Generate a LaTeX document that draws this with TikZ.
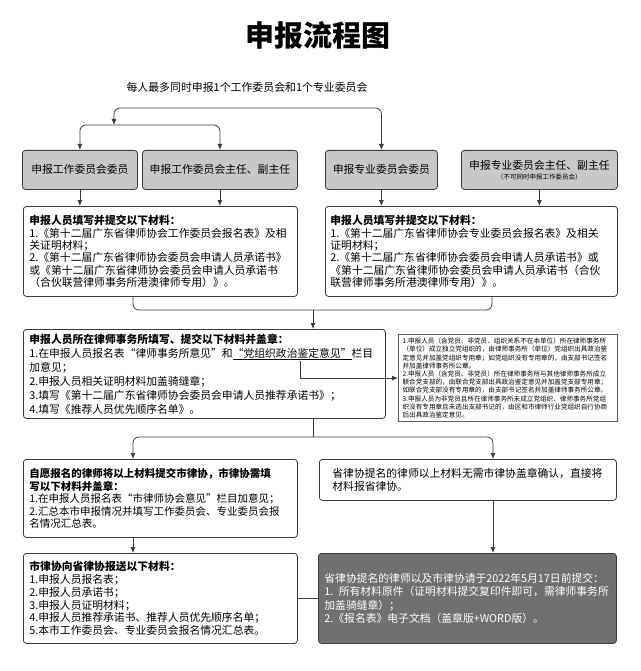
\documentclass[tikz,border=0pt]{standalone}
\usepackage{fontspec}
\setmainfont{Noto Sans CJK SC}
\usetikzlibrary{arrows.meta,calc}
\definecolor{boxline}{RGB}{60,60,60}
\definecolor{headgray}{RGB}{200,200,200}
\definecolor{submitgray}{RGB}{112,112,112}
\definecolor{notegray}{RGB}{95,95,95}
\tikzset{
  flow/.style={-{Latex[length=6pt,width=5pt]}, line width=0.8pt, draw=boxline},
  bothflow/.style={{Latex[length=6pt,width=5pt]}-{Latex[length=6pt,width=5pt]}, line width=0.8pt, draw=boxline, rounded corners=6pt},
  link/.style={line width=0.8pt, draw=boxline, rounded corners=6pt},
  headbox/.style={
    draw=boxline, line width=0.8pt, rounded corners=3pt,
    fill=headgray, align=center, anchor=north west,
    minimum height=39pt, inner sep=2pt,
    font=\fontsize{10.8}{12}\selectfont
  },
  stepbox/.style={
    draw=boxline, line width=0.8pt, rounded corners=3pt,
    fill=white, align=left, anchor=north west,
    inner xsep=6pt, inner ysep=2pt,
    font=\fontsize{10.8}{12.3}\selectfont
  },
  notebox/.style={
    draw=notegray, line width=1.2pt,
    fill=white, align=left, anchor=north west,
    inner xsep=4pt, inner ysep=2pt,
    font=\fontsize{6.6}{8.2}\selectfont
  }
}

\begin{document}
\begin{tikzpicture}[x=1pt,y=-1pt]
\useasboundingbox (0,0) rectangle (640,671);

%--------------------------------------------------
% Title
%--------------------------------------------------
\node[font=\bfseries\fontsize{29}{29}\selectfont] (title) at (318,36) {申报流程图};

\node[font=\fontsize{10.9}{12}\selectfont] (rule) at (247,87)
{每人最多同时申报1个工作委员会和1个专业委员会};

%--------------------------------------------------
% Row 1: what to apply for
%--------------------------------------------------
\node[headbox, minimum width=115pt] (gw) at (22,150) {申报工作委员会委员};
\node[headbox, minimum width=155pt] (gz) at (142,150) {申报工作委员会主任、副主任};
\node[headbox, minimum width=112pt] (zm) at (325,150) {申报专业委员会委员};
\node[headbox, minimum width=156pt] (zz) at (461,150)
{申报专业委员会主任、副主任\\[-2pt]{\fontsize{6.5}{7}\selectfont（不可同时申报工作委员会）}};

% brackets above the boxes
\coordinate (split1) at (114,125);
\coordinate (bar1) at (247,108);
\draw[bothflow] (split1) |- (bar1) -| (zm.north);
\draw[bothflow] (gw.north) |- (split1) -| (gz.north);

%--------------------------------------------------
% Row 2: materials of the applicant
%--------------------------------------------------
\node[stepbox, text width=262pt, minimum height=90pt] (lm) at (23,206) {%
\textbf{申报人员填写并提交以下材料：}\\
1.《第十二届广东省律师协会工作委员会报名表》及相\\
关证明材料；\\
2.《第十二届广东省律师协会委员会申请人员承诺书》\\
或《第十二届广东省律师协会委员会申请人员承诺书\\
（合伙联营律师事务所港澳律师专用）》。};

\node[stepbox, inner xsep=5pt, text width=282pt, minimum height=90pt] (rm) at (325,206) {%
\textbf{申报人员填写并提交以下材料：}\\
1.《第十二届广东省律师协会专业委员会报名表》及相关\\
证明材料；\\
2.《第十二届广东省律师协会委员会申请人员承诺书》或\\
《第十二届广东省律师协会委员会申请人员承诺书（合伙\\
联营律师事务所港澳律师专用）》。};

\draw[flow] (gw.south) -- (gw.south |- lm.north);
\draw[flow] (gz.south) -- (gz.south |- lm.north);
\draw[flow] (zm.south) -- (zm.south |- rm.north);
\draw[flow] (zz.south) -- (zz.south |- rm.north);

%--------------------------------------------------
% Row 3: law firm
%--------------------------------------------------
\node[stepbox, text width=350pt, minimum height=89pt,
      font=\fontsize{10.8}{14}\selectfont] (fm) at (23,329) {%
\textbf{申报人员所在律师事务所填写、提交以下材料并盖章：}\\
1.在申报人员报名表“律师事务所意见”和\underline{“党组织政治鉴定意见”}栏目\\
加意见；\\
2.申报人员相关证明材料加盖骑缝章；\\
3.填写《第十二届广东省律师协会委员会申请人员推荐承诺书》；\\
4.填写《推荐人员优先顺序名单》。};

\node[notebox, text width=211pt, minimum height=87pt] (nt) at (398,334) {%
1.申报人员（含党员、非党员、组织关系不在本单位）所在律师事务所\\
（单位）成立独立党组织的，由律师事务所（单位）党组织出具政治鉴\\
定意见并加盖党组织专用章；如党组织没有专用章的，由支部书记签名\\
并加盖律师事务所公章。\\
2.申报人员（含党员、非党员）所在律师事务所与其他律师事务所成立\\
联合党支部的，由联合党支部出具政治鉴定意见并加盖党支部专用章；\\
如联合党支部没有专用章的，由支部书记签名并加盖律师事务所公章。\\
3.申报人员为非党员且所在律师事务所未成立党组织、律师事务所党组\\
织没有专用章且未选出支部书记的，由区和市律师行业党组织自行协商\\
后出具政治鉴定意见。};

\coordinate (lmout) at (133,296);
\coordinate (rmout) at (492,296);
\coordinate (merge1) at (313,310);
\draw[link] (lmout |- lm.south) |- (merge1) -| (rmout |- rm.south);
\draw[flow] (merge1) -- (merge1 |- fm.north);

% from the underlined words to the note
\coordinate (uline) at (300,361);
\draw[flow] (uline) |- (nt.west);

%--------------------------------------------------
% Row 4: city association / provincial nominee
%--------------------------------------------------
\node[stepbox, text width=262pt, minimum height=78pt,
      font=\fontsize{10.5}{12.5}\selectfont] (ls) at (23,459) {%
\textbf{自愿报名的律师将以上材料提交市律协，市律协需填}\\
\textbf{写以下材料并盖章：}\\
1.在申报人员报名表“市律师协会意见”栏目加意见；\\
2.汇总本市申报情况并填写工作委员会、专业委员会报\\
名情况汇总表。};

\node[stepbox, text width=271pt, inner xsep=13pt, minimum height=41pt] (rs) at (319,459) {%
省律协提名的律师以上材料无需市律协盖章确认，直接将\\
材料报省律协。};

\coordinate (merge2) at (313,437);
\coordinate (rsin) at (493,437);
\draw[link] (merge1 |- fm.south) -- (merge2);
\draw[bothflow] (lmout |- ls.north) |- (merge2) -| (rsin |- rs.north);

%--------------------------------------------------
% Row 5: submission
%--------------------------------------------------
\node[stepbox, text width=262pt, minimum height=90pt,
      font=\fontsize{10.8}{12.8}\selectfont] (lf) at (23,553) {%
\textbf{市律协向省律协报送以下材料：}\\
1.申报人员报名表；\\
2.申报人员承诺书；\\
3.申报人员证明材料；\\
4.申报人员推荐承诺书、推荐人员优先顺序名单；\\
5.本市工作委员会、专业委员会报名情况汇总表。};

\node[stepbox, fill=submitgray, text=white, text width=286pt, minimum height=90pt,
      font=\fontsize{10.8}{13.6}\selectfont] (rf) at (318,553) {%
省律协提名的律师以及市律协请于2022年5月17日前提交：\\
1. 所有材料原件（证明材料提交复印件即可，需律师事务所\\
加盖骑缝章）；\\
2.《报名表》电子文档（盖章版+WORD版）。};

\draw[flow] (lmout |- ls.south) -- (lmout |- lf.north);
\draw[flow] (rsin |- rs.south) -- (rsin |- rf.north);
\draw[link] (lf.east) -- (rf.west);

\end{tikzpicture}
\end{document}
